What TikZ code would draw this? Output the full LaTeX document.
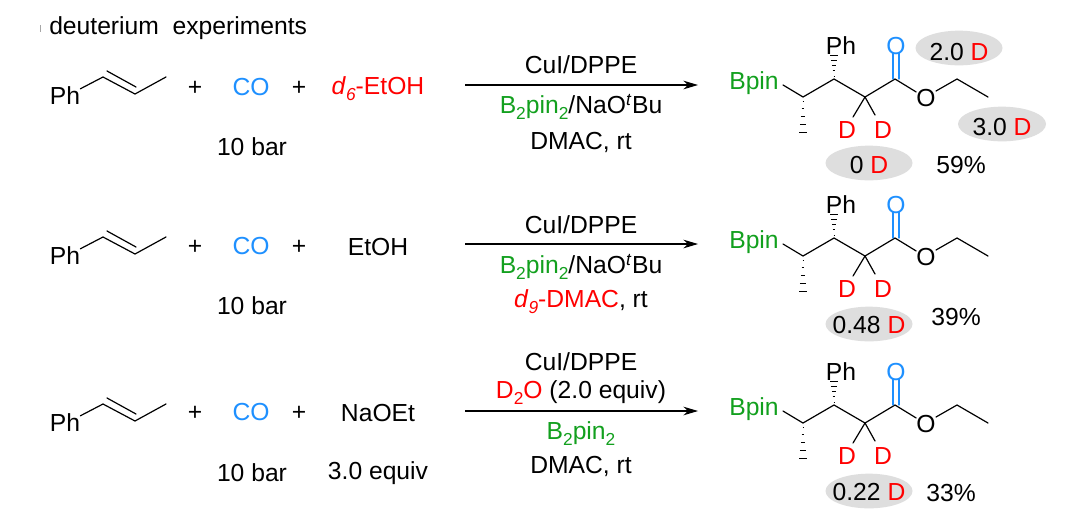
\documentclass[tikz,border=0pt]{standalone}
\usepackage{fontspec}
\setmainfont{Liberation Sans}
\usetikzlibrary{arrows.meta,calc,shapes.geometric}
\definecolor{cgreen}{HTML}{12A01E}
\definecolor{cblue}{HTML}{1E90FF}
\definecolor{cred}{HTML}{FF0000}
\definecolor{cgrey}{HTML}{DEDEDE}
\newcommand{\RD}[1]{\textcolor{cred}{#1}}
\newcommand{\GR}[1]{\textcolor{cgreen}{#1}}
\newcommand{\dsub}[1]{\raisebox{-0.24em}{\fontsize{13pt}{14pt}\selectfont #1}}
\tikzset{
  txt/.style={font=\fontsize{18.5pt}{21pt}\selectfont,inner sep=0pt,text=black,anchor=center},
  atom/.style={txt},
  bond/.style={line width=0.9pt,line cap=round},
  rxn/.style={line width=0.8pt,-{Stealth[length=11pt,width=6.5pt]}},
  blob/.style={ellipse,fill=cgrey,minimum width=#1*0.75pt,minimum height=26pt,inner sep=0pt},
  hash/.style={line width=0.7pt,black},
}
% hashed wedge between named coordinates
\newcommand{\hashwedge}[2]{%
  \foreach \t/\w in {0.12/0.5,0.34/1.3,0.56/2.2,0.78/3.1,1.0/4.0}{%
    \draw[hash] ($(#1)!\t!(#2)+(-\w,0)$) -- ($(#1)!\t!(#2)+(\w,0)$);}}
% alkene: prefix, y
\newcommand{\alkene}[2]{%
  \begin{scope}[shift={(0,#2)}]
    \node[atom] (#1ph) at (65,8) {Ph};
    \coordinate (#1a) at (103,-11);
    \coordinate (#1b) at (135,6);
    \coordinate (#1c) at (166,-11);
    \coordinate (#1d) at (107,-17);
    \coordinate (#1e) at (136,-1);
    \draw[bond] (#1ph.north east)++(0,2) -- (#1a) -- (#1b) -- (#1c);
    \draw[bond] (#1d) -- (#1e);
  \end{scope}}
% product: prefix, x shift, y shift
\newcommand{\product}[3]{%
  \begin{scope}[shift={(#2,#3)}]
    \node[atom,text=cgreen] (#1bpin) at (754,83) {Bpin};
    \node[atom] (#1ph) at (841,46) {Ph};
    \node[atom,text=cblue] (#1co) at (896,46) {O};
    \node[atom] (#1o) at (926,98) {O};
    \node[atom,text=cred] (#1d1) at (847,130) {D};
    \node[atom,text=cred] (#1d2) at (883,130) {D};
    \coordinate (#1c1) at (803,97);
    \coordinate (#1c2) at (834,79);
    \coordinate (#1c3) at (865,97);
    \coordinate (#1c4) at (895,79);
    \coordinate (#1c5) at (957,79);
    \coordinate (#1c6) at (988,97);
    \coordinate (#1h1) at (834,55);
    \coordinate (#1h2) at (803,132);
    \coordinate (#1e1) at (853,117);
    \coordinate (#1e2) at (875,115);
    \coordinate (#1ca) at (893,79);
    \coordinate (#1cb) at (893,53);
    \coordinate (#1cc) at (899,79);
    \coordinate (#1cd) at (899,53);
    \coordinate (#1s) at (783,85);
    \coordinate (#1t) at (936,91);
    \draw[bond] (#1s) -- (#1c1) -- (#1c2) -- (#1c3) -- (#1c4) -- (#1o);
    \draw[bond] (#1t) -- (#1c5) -- (#1c6);
    \draw[bond] (#1c3) -- (#1e1);
    \draw[bond] (#1c3) -- (#1e2);
    \draw[bond,cblue] (#1ca) -- (#1cb);
    \draw[bond,cblue] (#1cc) -- (#1cd);
    \hashwedge{#1c2}{#1h1}
    \hashwedge{#1c1}{#1h2}
  \end{scope}}
\begin{document}
\begin{tikzpicture}[x=0.75pt,y=-0.75pt]
\useasboundingbox (0,0) rectangle (1080,508);
\fill[white] (0,0) rectangle (1080,508);
\coordinate (cropa) at (40,25);
\coordinate (cropb) at (40,32);
\draw[line width=0.6pt,black!35] (cropa) -- (cropb);
\node[txt,anchor=west] (title) at (49,28) {deuterium\ \ experiments};

% row 1
\alkene{ra}{88}
\node[txt] (pa1) at (195,88) {+};
\node[txt,text=cblue] (coa) at (251,87) {CO};
\node[txt] (pa2) at (299,88) {+};
\node[txt] (ra3) at (378,89) {\RD{\textit{d}\dsub{\textit{6}}-EtOH}};
\node[txt] (ba) at (252,147) {10 bar};
\coordinate (aa) at (465,85);
\coordinate (ab) at (698,85);
\draw[rxn] (aa) -- (ab);
\node[txt] (ca1) at (581,65) {CuI/DPPE};
\node[txt] (ca2) at (581,107) {\GR{B\dsub{2}pin\dsub{2}}/NaO\textsuperscript{\textit{t}}Bu};
\node[txt] (ca3) at (581,142) {DMAC, rt};
\node[blob=87] (ea1) at (959,48) {};
\node[txt] (la1) at (959,52) {2.0 \RD{D}};
\node[blob=88] (ea2) at (1002,124) {};
\node[txt] (la2) at (1002,127) {3.0 \RD{D}};
\node[blob=87] (ea3) at (869,163) {};
\node[txt] (la3) at (869,165) {0 \RD{D}};
\node[txt] (ya) at (961,165) {59\%};
\product{pa}{0}{0}

% row 2
\alkene{rb}{248}
\node[txt] (pb1) at (195,247) {+};
\node[txt,text=cblue] (cob) at (251,246) {CO};
\node[txt] (pb2) at (299,247) {+};
\node[txt] (rb3) at (378,247) {EtOH};
\node[txt] (bb) at (252,306) {10 bar};
\coordinate (ba) at (465,244);
\coordinate (bbb) at (698,244);
\draw[rxn] (ba) -- (bbb);
\node[txt] (cb1) at (581,225) {CuI/DPPE};
\node[txt] (cb2) at (581,267) {\GR{B\dsub{2}pin\dsub{2}}/NaO\textsuperscript{\textit{t}}Bu};
\node[txt] (cb3) at (581,302) {\RD{\textit{d}\dsub{\textit{9}}-DMAC}, rt};
\node[blob=87] (eb) at (869,324) {};
\node[txt] (lb) at (869,325) {0.48 \RD{D}};
\node[txt] (yb) at (956,317) {39\%};
\product{pb}{0}{159}

% row 3
\alkene{rc}{415}
\node[txt] (pc1) at (195,413) {+};
\node[txt,text=cblue] (coc) at (251,412) {CO};
\node[txt] (pc2) at (299,413) {+};
\node[txt] (rc3) at (378,413) {NaOEt};
\node[txt] (bc) at (252,473) {10 bar};
\node[txt] (eqc) at (378,473) {3.0 equiv};
\coordinate (ca) at (465,411);
\coordinate (cb) at (698,411);
\draw[rxn] (ca) -- (cb);
\node[txt] (cc1) at (581,362) {CuI/DPPE};
\node[txt] (cc2) at (581,393) {\RD{D\dsub{2}O} (2.0 equiv)};
\node[txt] (cc3) at (581,434) {\GR{B\dsub{2}pin\dsub{2}}};
\node[txt] (cc4) at (581,466) {DMAC, rt};
\node[blob=87] (ec) at (869,491) {};
\node[txt] (lc) at (869,492) {0.22 \RD{D}};
\node[txt] (yc) at (951,493) {33\%};
\product{pc}{0}{326}
\end{tikzpicture}
\end{document}
